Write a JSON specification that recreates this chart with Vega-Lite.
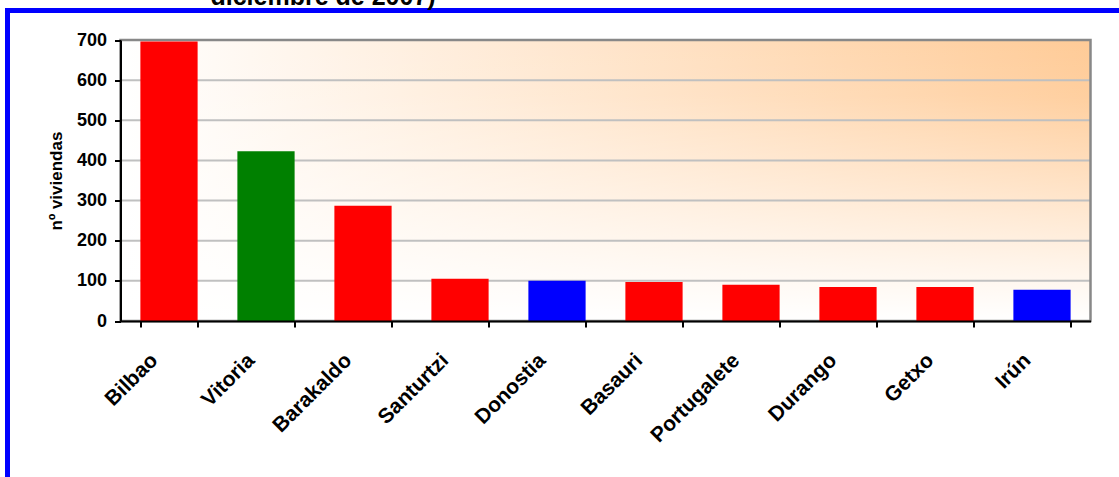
{
  "$schema": "https://vega.github.io/schema/vega-lite/v6.json",
  "width": 1111.5,
  "height": 466.5,
  "autosize": {"type": "none"},
  "padding": {"left": 7.5, "top": 10.5, "right": 0, "bottom": 0},
  "background": "white",
  "title": {
    "text": "diciembre de 2007)",
    "anchor": "start",
    "frame": "group",
    "dx": 203,
    "dy": 27,
    "baseline": "alphabetic",
    "offset": 4,
    "font": "Liberation Sans",
    "fontSize": 25,
    "fontWeight": "bold",
    "color": "black"
  },
  "config": {
    "view": {"stroke": null, "fill": "white"},
    "font": "Liberation Sans"
  },
  "resolve": {"scale": {"x": "independent", "y": "independent"}},
  "layer": [
    {
      "data": {"values": [{}]},
      "mark": {
        "type": "rect",
        "fill": {
          "gradient": "linear",
          "x1": 0, "y1": 0, "x2": 1, "y2": 0,
          "stops": [
            {"offset": 0, "color": "#FFFFFF"},
            {"offset": 1, "color": "#FFCB97"}
          ]
        }
      },
      "encoding": {
        "x": {"datum": 0, "type": "quantitative", "scale": {"domain": [0, 1], "range": [113, 1083]}, "axis": null},
        "x2": {"datum": 1},
        "y": {"datum": 0, "type": "quantitative", "scale": {"domain": [0, 700], "range": [310.5, 29.5], "nice": false}, "axis": null},
        "y2": {"datum": 700}
      }
    },
    {
      "data": {"values": [{}]},
      "mark": {
        "type": "rect",
        "fill": {
          "gradient": "linear",
          "x1": 0, "y1": 0, "x2": 0, "y2": 1,
          "stops": [
            {"offset": 0, "color": "rgba(255,255,255,0)"},
            {"offset": 0.2, "color": "rgba(255,255,255,0.08)"},
            {"offset": 0.5, "color": "rgba(255,255,255,0.42)"},
            {"offset": 0.8, "color": "rgba(255,255,255,0.78)"},
            {"offset": 1, "color": "rgba(255,255,255,1)"}
          ]
        }
      },
      "encoding": {
        "x": {"datum": 0, "type": "quantitative", "scale": {"domain": [0, 1], "range": [113, 1083]}, "axis": null},
        "x2": {"datum": 1},
        "y": {"datum": 0, "type": "quantitative", "scale": {"domain": [0, 700], "range": [310.5, 29.5], "nice": false}, "axis": null},
        "y2": {"datum": 700}
      }
    },
    {
      "data": {"values": [{"v": 100}, {"v": 200}, {"v": 300}, {"v": 400}, {"v": 500}, {"v": 600}]},
      "mark": {"type": "rule", "color": "#C0C0C0", "strokeWidth": 2},
      "encoding": {
        "x": {"datum": 0, "type": "quantitative", "scale": {"domain": [0, 1], "range": [113, 1083]}, "axis": null},
        "x2": {"datum": 1},
        "y": {"field": "v", "type": "quantitative", "scale": {"domain": [0, 700], "range": [310.5, 29.5], "nice": false}, "axis": null}
      }
    },
    {
      "data": {"values": [{}]},
      "mark": {"type": "rect", "fill": null, "stroke": "#888888", "strokeWidth": 2.5},
      "encoding": {
        "x": {"datum": 0, "type": "quantitative", "scale": {"domain": [0, 1], "range": [113, 1083]}, "axis": null},
        "x2": {"datum": 1},
        "y": {"datum": 0, "type": "quantitative", "scale": {"domain": [0, 700], "range": [310.5, 29.5], "nice": false}, "axis": null},
        "y2": {"datum": 700}
      }
    },
    {
      "data": {"values": [{}]},
      "mark": {"type": "rule", "color": "#0000FF", "strokeWidth": 5, "strokeCap": "square"},
      "encoding": {
        "x": {"datum": 0, "type": "quantitative", "scale": {"domain": [0, 1], "range": [0, 1111.5]}, "axis": null},
        "y": {"datum": 0, "type": "quantitative", "scale": {"domain": [0, 1], "range": [475, 0]}, "axis": null},
        "y2": {"datum": 1}
      }
    },
    {
      "data": {"values": [{}]},
      "mark": {"type": "rule", "color": "#0000FF", "strokeWidth": 5},
      "encoding": {
        "x": {"datum": 0, "type": "quantitative", "scale": {"domain": [0, 1], "range": [0, 1111.5]}, "axis": null},
        "x2": {"datum": 1},
        "y": {"datum": 1, "type": "quantitative", "scale": {"domain": [0, 1], "range": [466.5, 0]}, "axis": null}
      }
    },
    {
      "data": {
        "values": [
          {"municipio": "Bilbao", "territorio": "Bizkaia", "viviendas": 696},
          {"municipio": "Vitoria", "territorio": "Álava", "viviendas": 423},
          {"municipio": "Barakaldo", "territorio": "Bizkaia", "viviendas": 287},
          {"municipio": "Santurtzi", "territorio": "Bizkaia", "viviendas": 105},
          {"municipio": "Donostia", "territorio": "Gipuzkoa", "viviendas": 100},
          {"municipio": "Basauri", "territorio": "Bizkaia", "viviendas": 97},
          {"municipio": "Portugalete", "territorio": "Bizkaia", "viviendas": 90},
          {"municipio": "Durango", "territorio": "Bizkaia", "viviendas": 85},
          {"municipio": "Getxo", "territorio": "Bizkaia", "viviendas": 85},
          {"municipio": "Irún", "territorio": "Gipuzkoa", "viviendas": 78}
        ]
      },
      "mark": {"type": "bar"},
      "encoding": {
        "x": {
          "field": "municipio",
          "type": "nominal",
          "sort": null,
          "scale": {"type": "band", "range": [113, 1083], "paddingInner": 0.41, "paddingOuter": 0.205},
          "axis": {
            "title": null,
            "orient": "bottom",
            "offset": -156,
            "tickBand": "extent",
            "labelAngle": -45,
            "labelAlign": "right",
            "labelBaseline": "middle",
            "labelFont": "Liberation Sans",
            "labelFontSize": 21,
            "labelFontWeight": "bold",
            "labelColor": "black",
            "labelPadding": 30,
            "labelOffset": -15,
            "labelOverlap": false,
            "labelBound": false,
            "labelFlush": false,
            "tickSize": 6,
            "tickWidth": 2,
            "tickColor": "black",
            "domainColor": "black",
            "domainWidth": 2,
            "zindex": 1
          }
        },
        "y": {
          "field": "viviendas",
          "type": "quantitative",
          "scale": {"domain": [0, 700], "range": [310.5, 29.5], "nice": false, "zero": true},
          "axis": {
            "title": "nº viviendas",
            "orient": "left",
            "offset": -113,
            "values": [0, 100, 200, 300, 400, 500, 600, 700],
            "grid": false,
            "tickSize": 6,
            "tickWidth": 2,
            "tickColor": "black",
            "domainColor": "black",
            "domainWidth": 2,
            "labelFont": "Liberation Sans",
            "labelFontSize": 18,
            "labelFontWeight": "bold",
            "labelColor": "black",
            "labelPadding": 8,
            "labelFlush": false,
            "labelOverlap": false,
            "titleFont": "Liberation Sans",
            "titleFontSize": 17,
            "titleFontWeight": "bold",
            "titleColor": "black",
            "titlePadding": 11,
            "zindex": 1
          }
        },
        "color": {
          "field": "territorio",
          "type": "nominal",
          "scale": {"domain": ["Bizkaia", "Álava", "Gipuzkoa"], "range": ["#FF0000", "#008000", "#0000FF"]},
          "legend": null
        }
      }
    }
  ]
}
